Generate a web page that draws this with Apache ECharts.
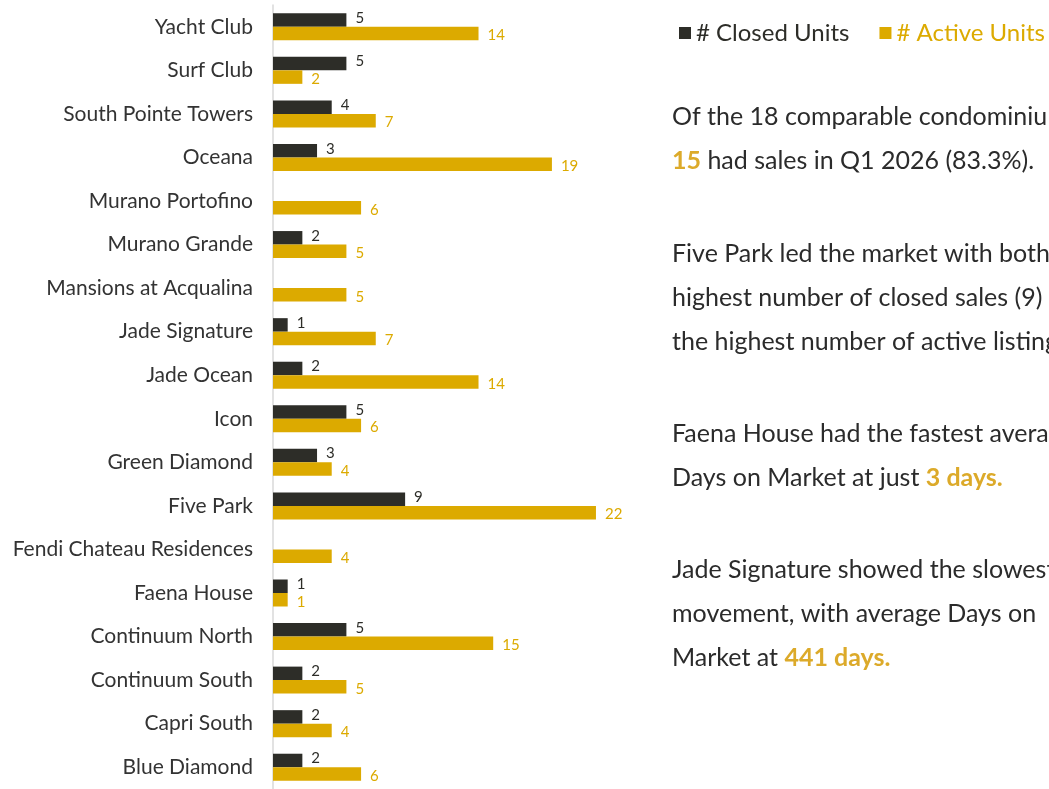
<!DOCTYPE html>
<html>
<head>
<meta charset="utf-8">
<script src="https://cdn.jsdelivr.net/npm/echarts@6/dist/echarts.min.js"></script>
<style>
  html, body { margin: 0; padding: 0; background: #fff; }
  #chart { width: 1049px; height: 789px; }
</style>
</head>
<body>
<div id="chart"></div>
<script>
// condos, top to bottom as in the report
var condos = ['Yacht Club', 'Surf Club', 'South Pointe Towers', 'Oceana', 'Murano Portofino',
    'Murano Grande', 'Mansions at Acqualina', 'Jade Signature', 'Jade Ocean', 'Icon',
    'Green Diamond', 'Five Park', 'Fendi Chateau Residences', 'Faena House',
    'Continuum North', 'Continuum South', 'Capri South', 'Blue Diamond'];
var closedUnits = [5, 5, 4, 3, 0, 2, 0, 1, 2, 5, 3, 9, 0, 1, 5, 2, 2, 2];
var activeUnits = [14, 2, 7, 19, 6, 5, 5, 7, 14, 6, 4, 22, 4, 1, 15, 5, 4, 6];

var DARK = '#2d2d28';
var GOLD = '#dcaa00';
var FONT = 'Lato';

var chart = echarts.init(document.getElementById('chart'));

function hideZero(p){
    return p.value ? p.value : '';
}

// zrender rich text wants fill, not color
var rich = {
    n: { fontFamily: FONT, fontSize: 25, fill: '#2b2b2b', lineHeight: 44 },
    g: { fontFamily: FONT, fontSize: 25, fill: '#dcaa2a', fontWeight: 'bold', lineHeight: 44 }
};

function para(top, txt){
    return {
        type: 'text',
        left: 672,
        top: top,
        style: { text: txt, rich: rich, font: '25px ' + FONT, fill: '#2b2b2b' }
    };
}

var option = {
    animation: false,
    legend: {
        left: 674,
        top: 16,
        width: 500,
        icon: 'rect',
        itemWidth: 12,
        itemHeight: 12,
        itemGap: 30,
        textStyle: { fontFamily: FONT, fontSize: 24 },
        data: [
            { name: '# Closed Units', textStyle: { color: DARK } },
            { name: '# Active Units', textStyle: { color: GOLD } }
        ]
    },
    grid: {
        left: 273,
        top: 5,
        width: 367,
        bottom: 0,
        containLabel: false
    },
    xAxis: {
        type: 'value',
        min: 0,
        max: 25,
        show: false
    },
    yAxis: {
        type: 'category',
        inverse: true,
        data: condos,
        axisLine: { lineStyle: { color: '#d9d9d9', width: 1.5 } },
        axisTick: { show: false },
        axisLabel: {
            margin: 20,
            fontFamily: FONT,
            fontSize: 21,
            color: '#333'
        }
    },
    series: [
        {
            name: '# Closed Units',
            type: 'bar',
            data: closedUnits,
            barWidth: 13.5,
            barGap: '0%',
            itemStyle: { color: DARK },
            label: {
                show: true,
                position: 'right',
                distance: 9,
                offset: [0, -2],
                fontFamily: FONT,
                fontSize: 15,
                color: DARK,
                formatter: hideZero
            }
        },
        {
            name: '# Active Units',
            type: 'bar',
            data: activeUnits,
            barWidth: 13.5,
            barGap: '0%',
            itemStyle: { color: GOLD },
            label: {
                show: true,
                position: 'right',
                distance: 9,
                offset: [0, 2],
                fontFamily: FONT,
                fontSize: 15,
                color: GOLD,
                formatter: hideZero
            }
        }
    ],
    graphic: [
        para(104, '{n|Of the 18 comparable condominiums,}\n{g|15}{n| had sales in Q1 2026 (83.3%).}'),
        para(241, '{n|Five Park led the market with both the}\n{n|highest number of closed sales (9) and}\n{n|the highest number of active listings (22).}'),
        para(421, '{n|Faena House had the fastest average}\n{n|Days on Market at just }{g|3 days.}'),
        para(557, '{n|Jade Signature showed the slowest}\n{n|movement, with average Days on}\n{n|Market at }{g|441 days.}')
    ]
};

chart.setOption(option);
</script>
</body>
</html>
